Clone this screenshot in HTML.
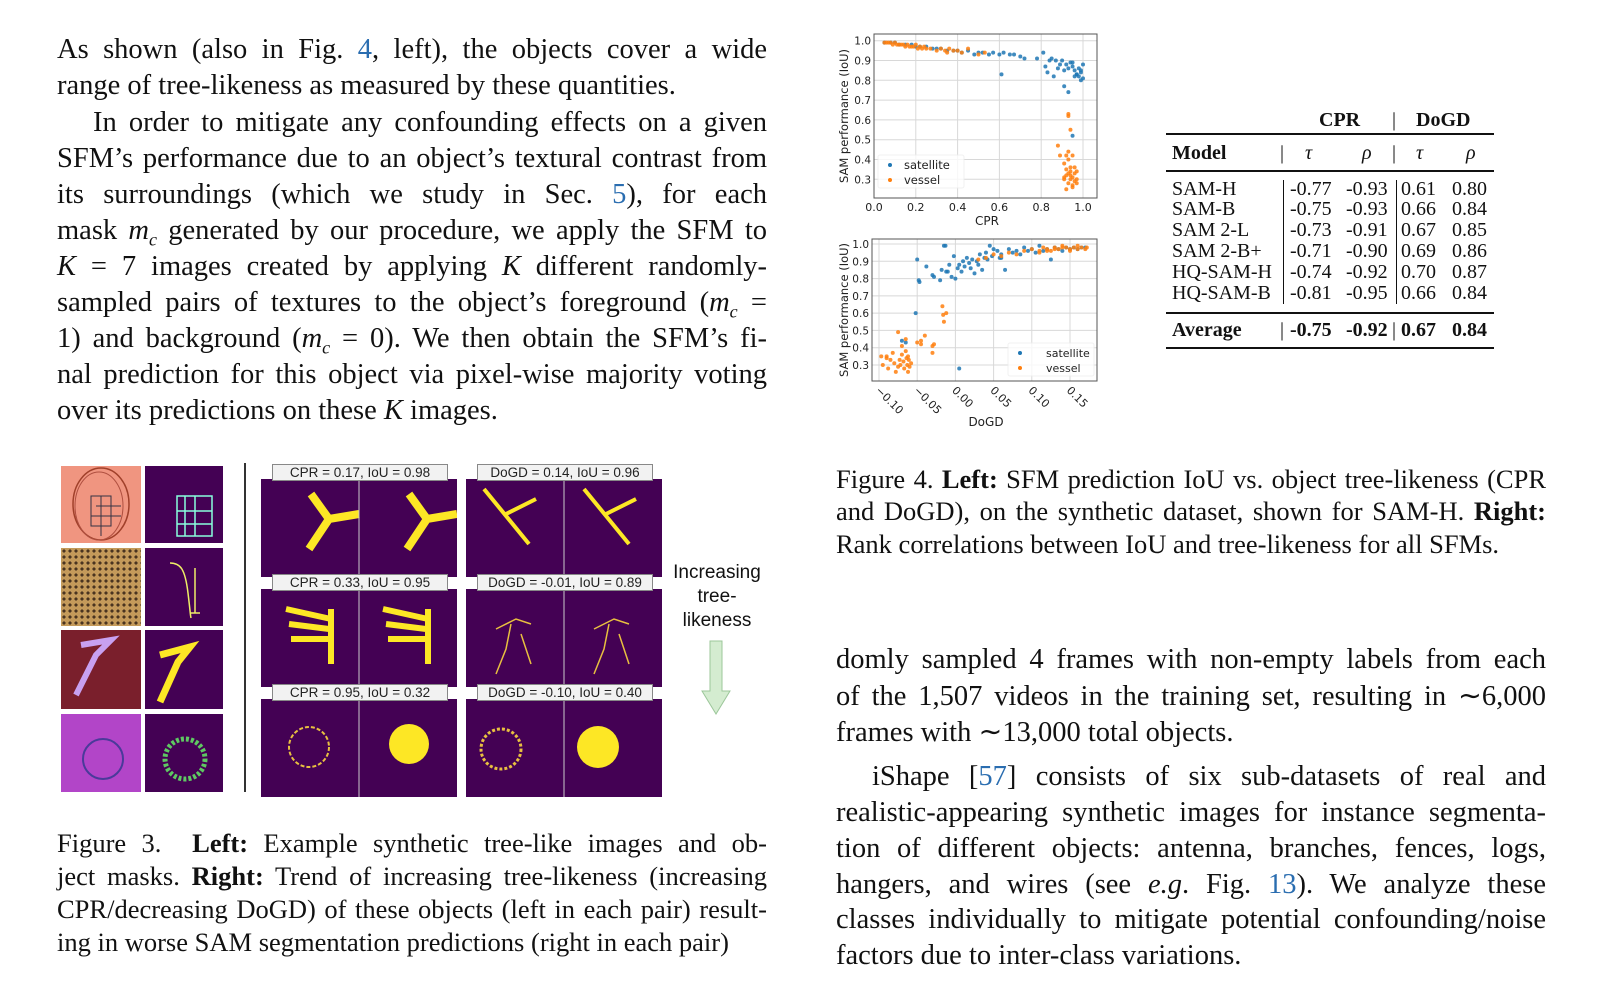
<!DOCTYPE html>
<html><head><meta charset="utf-8">
<style>
*{margin:0;padding:0;box-sizing:border-box}
body{width:1601px;height:984px;background:#fff;position:relative;overflow:hidden;font-family:"Liberation Serif",serif;color:#111}
.ln{position:absolute;white-space:nowrap;font-size:28.5px;line-height:36px;height:36px}
.j{text-align:justify;text-align-last:justify}
.cap{font-size:26.5px;line-height:33px;height:33px}
.cite{color:#2a6db0}
.tb{position:absolute;font-size:20px;line-height:21px;white-space:nowrap}
.rule{position:absolute;background:#111}
.pan{position:absolute;background:#440154}
.lbl{position:absolute;background:#f2f2f2;border:1px solid #888;font-family:"Liberation Sans",sans-serif;font-size:13.5px;text-align:center;line-height:15px;color:#222}
</style></head><body>

<!-- Left column text -->
<div>
<div class="ln j" style="left:57px;width:710px;top:32px">As shown (also in Fig. <span class="cite">4</span>, left), the objects cover a wide</div>
<div class="ln" style="left:57px;top:68px">range of tree-likeness as measured by these quantities.</div>
<div class="ln j" style="left:93px;width:674px;top:105px">In order to mitigate any confounding effects on a given</div>
<div class="ln j" style="left:57px;width:710px;top:141px">SFM’s performance due to an object’s textural contrast from</div>
<div class="ln j" style="left:57px;width:710px;top:177px">its surroundings (which we study in Sec. <span class="cite">5</span>), for each</div>
<div class="ln j" style="left:57px;width:710px;top:213px">mask <i>m<sub style="font-size:18px">c</sub></i> generated by our procedure, we apply the SFM to</div>
<div class="ln j" style="left:57px;width:710px;top:249px"><i>K</i> = 7 images created by applying <i>K</i> different randomly-</div>
<div class="ln j" style="left:57px;width:710px;top:285px">sampled pairs of textures to the object’s foreground (<i>m<sub style="font-size:18px">c</sub></i> =</div>
<div class="ln j" style="left:57px;width:710px;top:321px">1) and background (<i>m<sub style="font-size:18px">c</sub></i> = 0). We then obtain the SFM’s fi-</div>
<div class="ln j" style="left:57px;width:710px;top:357px">nal prediction for this object via pixel-wise majority voting</div>
<div class="ln" style="left:57px;top:393px">over its predictions on these <i>K</i> images.</div>
</div>

<!-- Figure 3 -->
<div>
<div style="position:absolute;left:61px;top:466px;width:80px;height:77px;background:#f09580">
<svg width="80" height="77"><ellipse cx="40" cy="38" rx="28" ry="36" fill="none" stroke="#a0402a" stroke-width="1.5"/><ellipse cx="38" cy="40" rx="24" ry="34" fill="none" stroke="#b05040" stroke-width="1"/><path d="M30 30h20v30h-20zM35 40h25M40 30v40M30 50h30" stroke="#334" fill="none"/></svg></div>
<div class="pan" style="left:145px;top:466px;width:78px;height:77px">
<svg width="78" height="77"><path d="M32 30h35v40h-35zM40 30v40M50 30v40M32 45h35M32 58h35" stroke="#8fd" stroke-width="1.5" fill="none"/></svg></div>
<div style="position:absolute;left:61px;top:548px;width:80px;height:78px;background:#c49a5a;background-image:radial-gradient(#4a3420 1.5px,transparent 1.6px);background-size:6px 6px"></div>
<div class="pan" style="left:145px;top:548px;width:78px;height:78px">
<svg width="78" height="78"><path d="M25 15c10 0 15 5 18 30s2 20 3 25M50 20v45M45 65h10" stroke="#ee6" stroke-width="1.5" fill="none"/></svg></div>
<div style="position:absolute;left:61px;top:630px;width:80px;height:79px;background:#7a1f2c">
<svg width="80" height="79"><path d="M20 15l30 -5-15 15-20 40" stroke="#c8a0f0" stroke-width="6" fill="none"/></svg></div>
<div class="pan" style="left:145px;top:630px;width:78px;height:79px">
<svg width="78" height="79"><path d="M15 25l30 -8-12 15-18 40" stroke="#fde725" stroke-width="7" fill="none"/></svg></div>
<div style="position:absolute;left:61px;top:714px;width:80px;height:78px;background:#b245c8">
<svg width="80" height="78"><circle cx="42" cy="45" r="20" fill="none" stroke="#4a3a9a" stroke-width="2"/></svg></div>
<div class="pan" style="left:145px;top:714px;width:78px;height:78px">
<svg width="78" height="78"><circle cx="40" cy="45" r="20" fill="none" stroke="#5ec962" stroke-width="5" stroke-dasharray="3 2"/></svg></div>
<div class="rule" style="left:244px;top:463px;width:2px;height:329px;background:#333"></div>

<div class="pan" style="left:261px;top:479px;width:196px;height:98px">
<svg width="196" height="98"><path d="M50 15l18 25 30 -5M68 40l-20 30" stroke="#fde725" stroke-width="8" fill="none"/><path d="M148 15l18 25 30 -5M166 40l-20 30" stroke="#fde725" stroke-width="8" fill="none"/><line x1="98" y1="0" x2="98" y2="98" stroke="#ccc"/></svg></div>
<div class="pan" style="left:466px;top:479px;width:196px;height:98px">
<svg width="196" height="98"><path d="M18 10l45 55M40 35l30 -15M118 10l45 55M140 35l30 -15" stroke="#fde725" stroke-width="4" fill="none"/><line x1="98" y1="0" x2="98" y2="98" stroke="#ccc"/></svg></div>
<div class="pan" style="left:261px;top:589px;width:196px;height:98px">
<svg width="196" height="98"><path d="M25 20l45 10M28 35l40 5M30 50l38 0M70 20v55" stroke="#fde725" stroke-width="6" fill="none"/><path d="M122 20l45 10M125 35l40 5M127 50l38 0M167 20v55" stroke="#fde725" stroke-width="6" fill="none"/><line x1="98" y1="0" x2="98" y2="98" stroke="#ccc"/></svg></div>
<div class="pan" style="left:466px;top:589px;width:196px;height:98px">
<svg width="196" height="98"><path d="M30 40l20 -10 15 5M45 35l-5 25-10 25M55 45l10 30M128 40l20 -10 15 5M143 35l-5 25-10 25M153 45l10 30" stroke="#e8c040" stroke-width="1.5" fill="none"/><line x1="98" y1="0" x2="98" y2="98" stroke="#ccc"/></svg></div>
<div class="pan" style="left:261px;top:699px;width:196px;height:98px">
<svg width="196" height="98"><circle cx="48" cy="48" r="20" fill="none" stroke="#e8c040" stroke-width="2" stroke-dasharray="4 2"/><circle cx="148" cy="45" r="20" fill="#fde725"/><line x1="98" y1="0" x2="98" y2="98" stroke="#ccc"/></svg></div>
<div class="pan" style="left:466px;top:699px;width:196px;height:98px">
<svg width="196" height="98"><circle cx="35" cy="50" r="20" fill="none" stroke="#e8c040" stroke-width="3" stroke-dasharray="3 2"/><circle cx="132" cy="48" r="21" fill="#fde725"/><line x1="98" y1="0" x2="98" y2="98" stroke="#ccc"/></svg></div>
<div class="lbl" style="left:272px;top:464px;width:176px;height:17px">CPR = 0.17, IoU = 0.98</div>
<div class="lbl" style="left:477px;top:464px;width:176px;height:17px">DoGD = 0.14, IoU = 0.96</div>
<div class="lbl" style="left:272px;top:574px;width:176px;height:17px">CPR = 0.33, IoU = 0.95</div>
<div class="lbl" style="left:477px;top:574px;width:176px;height:17px">DoGD = -0.01, IoU = 0.89</div>
<div class="lbl" style="left:272px;top:684px;width:176px;height:17px">CPR = 0.95, IoU = 0.32</div>
<div class="lbl" style="left:477px;top:684px;width:176px;height:17px">DoGD = -0.10, IoU = 0.40</div>
<div style="position:absolute;left:664px;top:561px;width:106px;text-align:center;font-family:'Liberation Sans',sans-serif;font-size:19px;line-height:24px">Increasing<br>tree-<br>likeness</div>
<svg style="position:absolute;left:700px;top:640px" width="32" height="76"><path d="M10 1h12v50h8l-14 23-14-23h8z" fill="#d4ecd0" stroke="#9cc79a"/></svg>
</div>

<!-- Figure 3 caption -->
<div>
<div class="ln cap j" style="left:57px;width:710px;top:827px">Figure 3.&nbsp; <b>Left:</b> Example synthetic tree-like images and ob-</div>
<div class="ln cap j" style="left:57px;width:710px;top:860px">ject masks. <b>Right:</b> Trend of increasing tree-likeness (increasing</div>
<div class="ln cap j" style="left:57px;width:710px;top:893px">CPR/decreasing DoGD) of these objects (left in each pair) result-</div>
<div class="ln cap" style="left:57px;top:926px">ing in worse SAM segmentation predictions (right in each pair)</div>
</div>

<!-- Charts -->
<svg id="charts" style="position:absolute;left:0;top:0" width="1601" height="984"></svg>

<!-- Table -->
<div>
<div class="tb" style="left:1319px;top:110px;font-weight:bold">CPR</div>
<div class="tb" style="left:1392px;top:110px">|</div>
<div class="tb" style="left:1416px;top:110px;font-weight:bold">DoGD</div>
<div class="rule" style="left:1166px;top:133px;width:328px;height:2px"></div>
<div class="tb" style="left:1172px;top:143px;font-weight:bold">Model</div>
<div class="tb" style="left:1280px;top:143px">|</div>
<div class="tb" style="left:1305px;top:143px"><i>τ</i></div>
<div class="tb" style="left:1362px;top:143px"><i>ρ</i></div>
<div class="tb" style="left:1392px;top:143px">|</div>
<div class="tb" style="left:1416px;top:143px"><i>τ</i></div>
<div class="tb" style="left:1466px;top:143px"><i>ρ</i></div>
<div class="rule" style="left:1166px;top:170px;width:328px;height:1.5px"></div>
<div id="tbody"></div>
<div class="rule" style="left:1283px;top:180px;width:1px;height:124px"></div>
<div class="rule" style="left:1396px;top:180px;width:1px;height:124px"></div>
<div class="rule" style="left:1166px;top:312px;width:328px;height:1.5px"></div>
<div class="tb" style="left:1172px;top:320px;font-weight:bold">Average</div>
<div class="tb" style="left:1280px;top:320px">|</div>
<div class="tb" style="left:1290px;top:320px;font-weight:bold">-0.75</div>
<div class="tb" style="left:1346px;top:320px;font-weight:bold">-0.92</div>
<div class="tb" style="left:1392px;top:320px">|</div>
<div class="tb" style="left:1401px;top:320px;font-weight:bold">0.67</div>
<div class="tb" style="left:1452px;top:320px;font-weight:bold">0.84</div>
<div class="rule" style="left:1166px;top:347px;width:328px;height:2px"></div>
</div>

<!-- Figure 4 caption -->
<div>
<div class="ln cap j" style="left:836px;width:710px;top:463px">Figure 4. <b>Left:</b> SFM prediction IoU vs. object tree-likeness (CPR</div>
<div class="ln cap j" style="left:836px;width:710px;top:495px">and DoGD), on the synthetic dataset, shown for SAM-H. <b>Right:</b></div>
<div class="ln cap" style="left:836px;top:528px">Rank correlations between IoU and tree-likeness for all SFMs.</div>
</div>

<!-- Right body text -->
<div>
<div class="ln j" style="left:836px;width:710px;top:642px">domly sampled 4 frames with non-empty labels from each</div>
<div class="ln j" style="left:836px;width:710px;top:679px">of the 1,507 videos in the training set, resulting in ∼6,000</div>
<div class="ln" style="left:836px;top:715px">frames with ∼13,000 total objects.</div>
<div class="ln j" style="left:872px;width:674px;top:759px">iShape [<span class="cite">57</span>] consists of six sub-datasets of real and</div>
<div class="ln j" style="left:836px;width:710px;top:795px">realistic-appearing synthetic images for instance segmenta-</div>
<div class="ln j" style="left:836px;width:710px;top:831px">tion of different objects: antenna, branches, fences, logs,</div>
<div class="ln j" style="left:836px;width:710px;top:867px">hangers, and wires (see <i>e.g</i>. Fig. <span class="cite">13</span>). We analyze these</div>
<div class="ln j" style="left:836px;width:710px;top:902px">classes individually to mitigate potential confounding/noise</div>
<div class="ln" style="left:836px;top:938px">factors due to inter-class variations.</div>
</div>

<script>
// Table data
const models=["SAM-H","SAM-B","SAM 2-L","SAM 2-B+","HQ-SAM-H","HQ-SAM-B"];
const cprTau=[-0.77,-0.75,-0.73,-0.71,-0.74,-0.81];
const cprRho=[-0.93,-0.93,-0.91,-0.90,-0.92,-0.95];
const dogdTau=[0.61,0.66,0.67,0.69,0.70,0.66];
const dogdRho=[0.80,0.84,0.85,0.86,0.87,0.84];

// Chart 1 (CPR) data
const cprSatX=[0.05,0.08,0.1,0.12,0.15,0.18,0.2,0.22,0.25,0.28,0.3,0.32,0.35,0.38,0.4,0.42,0.45,0.48,0.5,0.52,0.55,0.57,0.6,0.62,0.65,0.67,0.7,0.72,0.61,0.78,0.81,0.82,0.84,0.85,0.86,0.88,0.9,0.91,0.92,0.93,0.94,0.95,0.96,0.97,0.98,0.98,0.99,0.99,1.0,1.0,0.99,0.97,0.95,0.93,0.91,0.95,0.83,0.87,0.89,0.96];
const cprSatY=[0.99,0.99,0.99,0.98,0.98,0.98,0.97,0.97,0.97,0.96,0.96,0.96,0.95,0.95,0.95,0.94,0.95,0.93,0.94,0.94,0.93,0.94,0.93,0.94,0.93,0.93,0.92,0.91,0.83,0.91,0.94,0.87,0.9,0.91,0.82,0.86,0.9,0.85,0.88,0.86,0.89,0.87,0.85,0.83,0.82,0.86,0.8,0.84,0.81,0.88,0.85,0.83,0.89,0.74,0.77,0.52,0.84,0.9,0.88,0.82];
const cprVesX=[0.05,0.06,0.07,0.08,0.09,0.1,0.11,0.12,0.13,0.14,0.15,0.16,0.17,0.18,0.19,0.2,0.21,0.22,0.23,0.24,0.25,0.27,0.3,0.32,0.34,0.35,0.36,0.38,0.4,0.42,0.45,0.5,0.53,0.93,0.93,0.94,0.92,0.88,0.89,0.91,0.92,0.93,0.94,0.95,0.96,0.97,0.91,0.92,0.93,0.94,0.95,0.96,0.97,0.92,0.93,0.95,0.96,0.94,0.93,0.95,0.97,0.91,0.94];
const cprVesY=[0.99,0.99,0.99,0.99,0.98,0.99,0.98,0.98,0.98,0.98,0.97,0.98,0.97,0.97,0.97,0.98,0.96,0.97,0.96,0.97,0.96,0.96,0.95,0.96,0.95,0.94,0.96,0.95,0.95,0.94,0.96,0.93,0.94,0.63,0.62,0.55,0.42,0.47,0.42,0.38,0.35,0.33,0.36,0.31,0.29,0.34,0.3,0.32,0.28,0.3,0.27,0.33,0.3,0.25,0.4,0.42,0.36,0.32,0.44,0.26,0.28,0.31,0.34];
const cprTicks=[0.0,0.2,0.4,0.6,0.8,1.0];
const cprTickLabels=["0.0","0.2","0.4","0.6","0.8","1.0"];

// Chart 2 (DoGD) data
const dogdSatX=[-0.05,-0.048,-0.047,-0.038,-0.03,-0.028,-0.02,-0.018,-0.015,-0.012,-0.01,-0.008,-0.005,-0.002,0.0,0.003,0.005,0.008,0.01,0.012,0.015,0.018,0.02,0.022,0.025,0.028,0.03,0.032,0.035,0.038,0.04,0.042,0.045,0.048,0.05,0.055,0.058,0.06,0.065,0.07,0.075,0.08,0.085,0.09,0.095,0.1,0.105,0.11,0.115,0.12,0.125,0.13,0.135,0.14,0.145,0.15,0.155,0.16,0.165,0.17,-0.052,0.005,-0.07,-0.065,-0.013,0.06];
const dogdSatY=[0.91,0.79,0.78,0.87,0.82,0.81,0.79,0.85,0.99,0.84,0.84,0.88,0.81,0.93,0.8,0.86,0.88,0.84,0.9,0.87,0.92,0.89,0.86,0.91,0.83,0.9,0.88,0.94,0.85,0.92,0.95,0.91,0.99,0.93,0.97,0.96,0.92,0.94,0.85,0.97,0.95,0.96,0.94,0.98,0.96,0.97,0.95,0.99,0.96,0.97,0.91,0.98,0.97,0.96,0.98,0.97,0.98,0.97,0.98,0.98,0.6,0.28,0.44,0.43,0.99,0.92];
const dogdVesX=[-0.097,-0.095,-0.09,-0.088,-0.085,-0.08,-0.078,-0.075,-0.073,-0.072,-0.07,-0.068,-0.067,-0.065,-0.064,-0.063,-0.062,-0.061,-0.06,-0.058,-0.075,-0.082,-0.09,-0.07,-0.065,-0.062,-0.05,-0.045,-0.045,-0.04,-0.03,-0.03,-0.028,-0.017,-0.016,-0.015,-0.012,0.03,0.04,0.05,0.06,0.07,0.08,0.09,0.1,0.11,0.115,0.12,0.125,0.13,0.135,0.14,0.145,0.15,0.155,0.16,0.165,0.17,0.172,0.11,0.12,0.13,0.14,0.15,0.16];
const dogdVesY=[0.35,0.3,0.35,0.28,0.33,0.31,0.26,0.29,0.33,0.3,0.36,0.32,0.28,0.38,0.34,0.3,0.26,0.33,0.29,0.31,0.49,0.37,0.34,0.41,0.45,0.35,0.43,0.44,0.42,0.47,0.41,0.37,0.42,0.64,0.59,0.55,0.6,0.91,0.92,0.94,0.93,0.95,0.94,0.96,0.97,0.96,0.98,0.97,0.96,0.98,0.97,0.99,0.98,0.97,0.98,0.99,0.98,0.97,0.98,0.95,0.96,0.97,0.98,0.96,0.97];
const dogdTicks=[-0.10,-0.05,0.00,0.05,0.10,0.15];
const dogdTickLabels=["−0.10","−0.05","0.00","0.05","0.10","0.15"];
const iouTicks=[0.3,0.4,0.5,0.6,0.7,0.8,0.9,1.0];
const iouTickLabels=["0.3","0.4","0.5","0.6","0.7","0.8","0.9","1.0"];

// build table
const tb=document.getElementById('tbody');
const rowTops=[179,199,220,241,262,283];
models.forEach((m,i)=>{
  const cells=[[m,1172],[cprTau[i].toFixed(2),1290],[cprRho[i].toFixed(2),1346],[dogdTau[i].toFixed(2),1401],[dogdRho[i].toFixed(2),1452]];
  cells.forEach((c,k)=>{
    const d=document.createElement('div');d.className='tb';
    d.style.left=c[1]+'px';d.style.top=rowTops[i]+'px';d.textContent=c[0];
    
    
    tb.appendChild(d);
  });
});

const NS='http://www.w3.org/2000/svg';
const svg=document.getElementById('charts');
function el(tag,attrs,parent){const e=document.createElementNS(NS,tag);for(const k in attrs)e.setAttribute(k,attrs[k]);(parent||svg).appendChild(e);return e;}

function chart(cfg){
  const g=el('g',{});
  
  
  const sx=v=>cfg.px0+(v-cfg.x0)*(cfg.px1-cfg.px0)/(cfg.x1-cfg.x0);
  const sy=v=>cfg.py0+(v-cfg.y0)*(cfg.py1-cfg.py0)/(cfg.y1-cfg.y0);
  el('rect',{x:cfg.L,y:cfg.T,width:cfg.R-cfg.L,height:cfg.B-cfg.T,fill:'#fff'},g);
  cfg.xt.forEach((t,i)=>{
    const x=sx(t);
    el('line',{x1:x,y1:cfg.T,x2:x,y2:cfg.B,stroke:'#d8d8d8','stroke-width':1},g);
    let tx;
    if(cfg.rot){tx=el('text',{x:x-4,y:cfg.B+10,'font-size':11,'font-family':'DejaVu Sans, sans-serif',fill:'#222',transform:`rotate(45 ${x-4} ${cfg.B+10})`},g);}
    else{tx=el('text',{x:x,y:cfg.B+13,'font-size':11,'font-family':'DejaVu Sans, sans-serif',fill:'#222','text-anchor':'middle'},g);}
    tx.textContent=cfg.xl[i];
    
    
  });
  iouTicks.forEach((t,i)=>{
    const y=sy(t);
    el('line',{x1:cfg.L,y1:y,x2:cfg.R,y2:y,stroke:'#d8d8d8','stroke-width':1},g);
    const tx=el('text',{x:cfg.L-3,y:y+4,'font-size':10.5,'font-family':'DejaVu Sans, sans-serif',fill:'#222','text-anchor':'end'},g);
    tx.textContent=iouTickLabels[i];
    
    
  });
  el('rect',{x:cfg.L,y:cfg.T,width:cfg.R-cfg.L,height:cfg.B-cfg.T,fill:'none',stroke:'#555','stroke-width':1},g);
  const series=[[cfg.sx,cfg.sy,'#1f77b4','point-satellite'],[cfg.vx,cfg.vy,'#ff7f0e','point-vessel']];
  series.forEach(s=>{
    s[0].forEach((xv,i)=>{
      const c=el('circle',{cx:sx(xv),cy:sy(s[1][i]),r:2,fill:s[2],opacity:0.85},g);
      
      
    });
  });
  const yl=el('text',{x:cfg.ylx,y:(cfg.T+cfg.B)/2,'font-size':11.5,'font-family':'DejaVu Sans, sans-serif',fill:'#222','text-anchor':'middle',transform:`rotate(-90 ${cfg.ylx} ${(cfg.T+cfg.B)/2})`},g);
  yl.textContent='SAM performance (IoU)';
  
  
  const xl=el('text',{x:cfg.xlx,y:cfg.xly,'font-size':12,'font-family':'DejaVu Sans, sans-serif',fill:'#222','text-anchor':'middle'},g);
  xl.textContent=cfg.xtitle;
  
  
  const lg=el('g',{},g);
  
  
  el('rect',{x:cfg.lgx,y:cfg.lgy,width:cfg.lgw,height:33,fill:'#fff',opacity:0.8,stroke:'#eee',rx:2},lg);
  [['satellite','#1f77b4'],['vessel','#ff7f0e']].forEach((e,i)=>{
    const ly=cfg.lgy+10+i*15;
    el('circle',{cx:cfg.lgx+12,cy:ly,r:2,fill:e[1]},lg);
    const t=el('text',{x:cfg.lgx+cfg.lgt,y:ly+4,'font-size':cfg.lgf,'font-family':'DejaVu Sans, sans-serif',fill:'#222'},lg);
    t.textContent=e[0];
    
    
  });
}

chart({name:'chart-cpr',L:874,T:34,R:1097,B:198,x0:0,x1:1,px0:874,px1:1083,y0:0.3,y1:1.0,py0:179.3,py1:40.7,
  xt:cprTicks,xl:cprTickLabels,sx:cprSatX,sy:cprSatY,vx:cprVesX,vy:cprVesY,rot:false,
  ylx:848,xlx:987,xly:225,xtitle:'CPR',lgx:878,lgy:155,lgw:86,lgt:26,lgf:11.5});
chart({name:'chart-dogd',L:872,T:239,R:1097,B:381,x0:-0.1,x1:0.15,px0:879,px1:1070,y0:0.3,y1:1.0,py0:365,py1:244,
  xt:dogdTicks,xl:dogdTickLabels,sx:dogdSatX,sy:dogdSatY,vx:dogdVesX,vy:dogdVesY,rot:true,
  ylx:848,xlx:986,xly:426,xtitle:'DoGD',lgx:1008,lgy:343,lgw:86,lgt:38,lgf:11});
</script>
</body></html>
